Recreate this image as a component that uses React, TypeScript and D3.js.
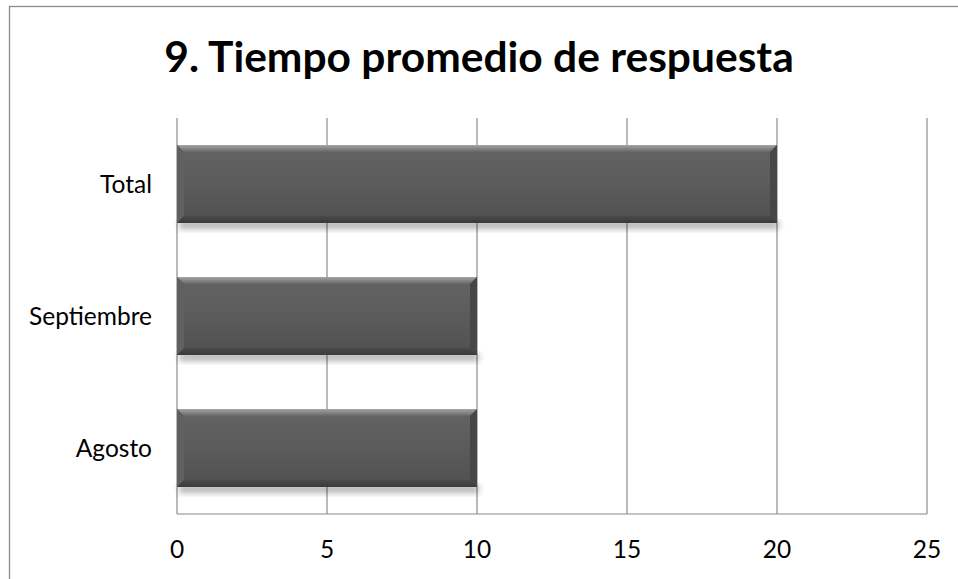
import React from "react";
import * as d3 from "d3";

const categories = ["Total", "Septiembre", "Agosto"];
const values = [20, 10, 10];
const ticks = [0, 5, 10, 15, 20, 25];
const title = "9. Tiempo promedio de respuesta";

export default function App() {
  const W = 958, H = 579;
  const left = 177, right = 927, top = 118, bottom = 514;
  const x = d3.scaleLinear().domain([0, 25]).range([left, right]);
  const y = d3.scaleBand().domain(categories).range([top, bottom]).paddingInner(0.41).paddingOuter(0.205);
  const font = "Lato, 'Open Sans', sans-serif";
  const bev = 7;
  return (
    <svg width={W} height={H} style={{ position: "absolute", left: 0, top: 0, background: "#fff" }}>
      <defs>
        <linearGradient id="body" x1="0" y1="0" x2="0" y2="1">
          <stop offset="0" stopColor="#646464" />
          <stop offset="0.5" stopColor="#5b5b5b" />
          <stop offset="1" stopColor="#505050" />
        </linearGradient>
        <linearGradient id="topb" x1="0" y1="0" x2="0" y2="1">
          <stop offset="0" stopColor="#a4a4a4" />
          <stop offset="1" stopColor="#666666" />
        </linearGradient>
        <linearGradient id="botb" x1="0" y1="0" x2="0" y2="1">
          <stop offset="0" stopColor="#4a4a4a" />
          <stop offset="1" stopColor="#3a3a3a" />
        </linearGradient>
        <filter id="shadow" x="-5%" y="-20%" width="110%" height="160%">
          <feGaussianBlur stdDeviation="3" />
        </filter>
      </defs>
      <rect x={9.5} y={6.5} width={W + 10} height={H + 10} fill="#fff" stroke="#8c8c8c" strokeWidth={1.3} />
      <text x={479} y={72} textAnchor="middle" fontFamily={font} fontWeight="bold" fontSize={42.5} fill="#000">{title}</text>
      {ticks.map((t) => (
        <line key={"g" + t} x1={x(t)} x2={x(t)} y1={top} y2={bottom} stroke="#8a8a8a" strokeWidth={1.2} />
      ))}
      <line x1={left} x2={right} y1={bottom} y2={bottom} stroke="#8a8a8a" strokeWidth={1.2} />
      {ticks.map((t) => (
        <text key={"t" + t} x={x(t)} y={558} textAnchor="middle" fontFamily={font} fontSize={24.5} fill="#000">{t}</text>
      ))}
      {categories.map((c) => (
        <text key={"c" + c} x={152} y={(y(c) as number) + y.bandwidth() / 2 + 8.5} textAnchor="end" fontFamily={font} fontSize={24.5} fill="#000">{c}</text>
      ))}
      {categories.map((c, i) => {
        const x0 = x(0), x1 = x(values[i]);
        const y0 = y(c) as number, h = y.bandwidth(), y1 = y0 + h;
        return (
          <g key={"b" + c}>
            <rect x={x0 + 2} y={y1 - 2} width={x1 - x0} height={8} fill="#000" opacity={0.3} filter="url(#shadow)" />
            <rect x={x0} y={y0} width={x1 - x0} height={h} fill="url(#body)" />
            <polygon points={`${x0},${y0} ${x1},${y0} ${x1 - bev},${y0 + bev} ${x0 + bev},${y0 + bev}`} fill="url(#topb)" />
            <polygon points={`${x0},${y0} ${x0 + bev},${y0 + bev} ${x0 + bev},${y1 - bev} ${x0},${y1}`} fill="#606060" />
            <polygon points={`${x1},${y0} ${x1},${y1} ${x1 - bev},${y1 - bev} ${x1 - bev},${y0 + bev}`} fill="#474747" />
            <polygon points={`${x0},${y1} ${x1},${y1} ${x1 - bev},${y1 - bev} ${x0 + bev},${y1 - bev}`} fill="url(#botb)" />
          </g>
        );
      })}
    </svg>
  );
}
